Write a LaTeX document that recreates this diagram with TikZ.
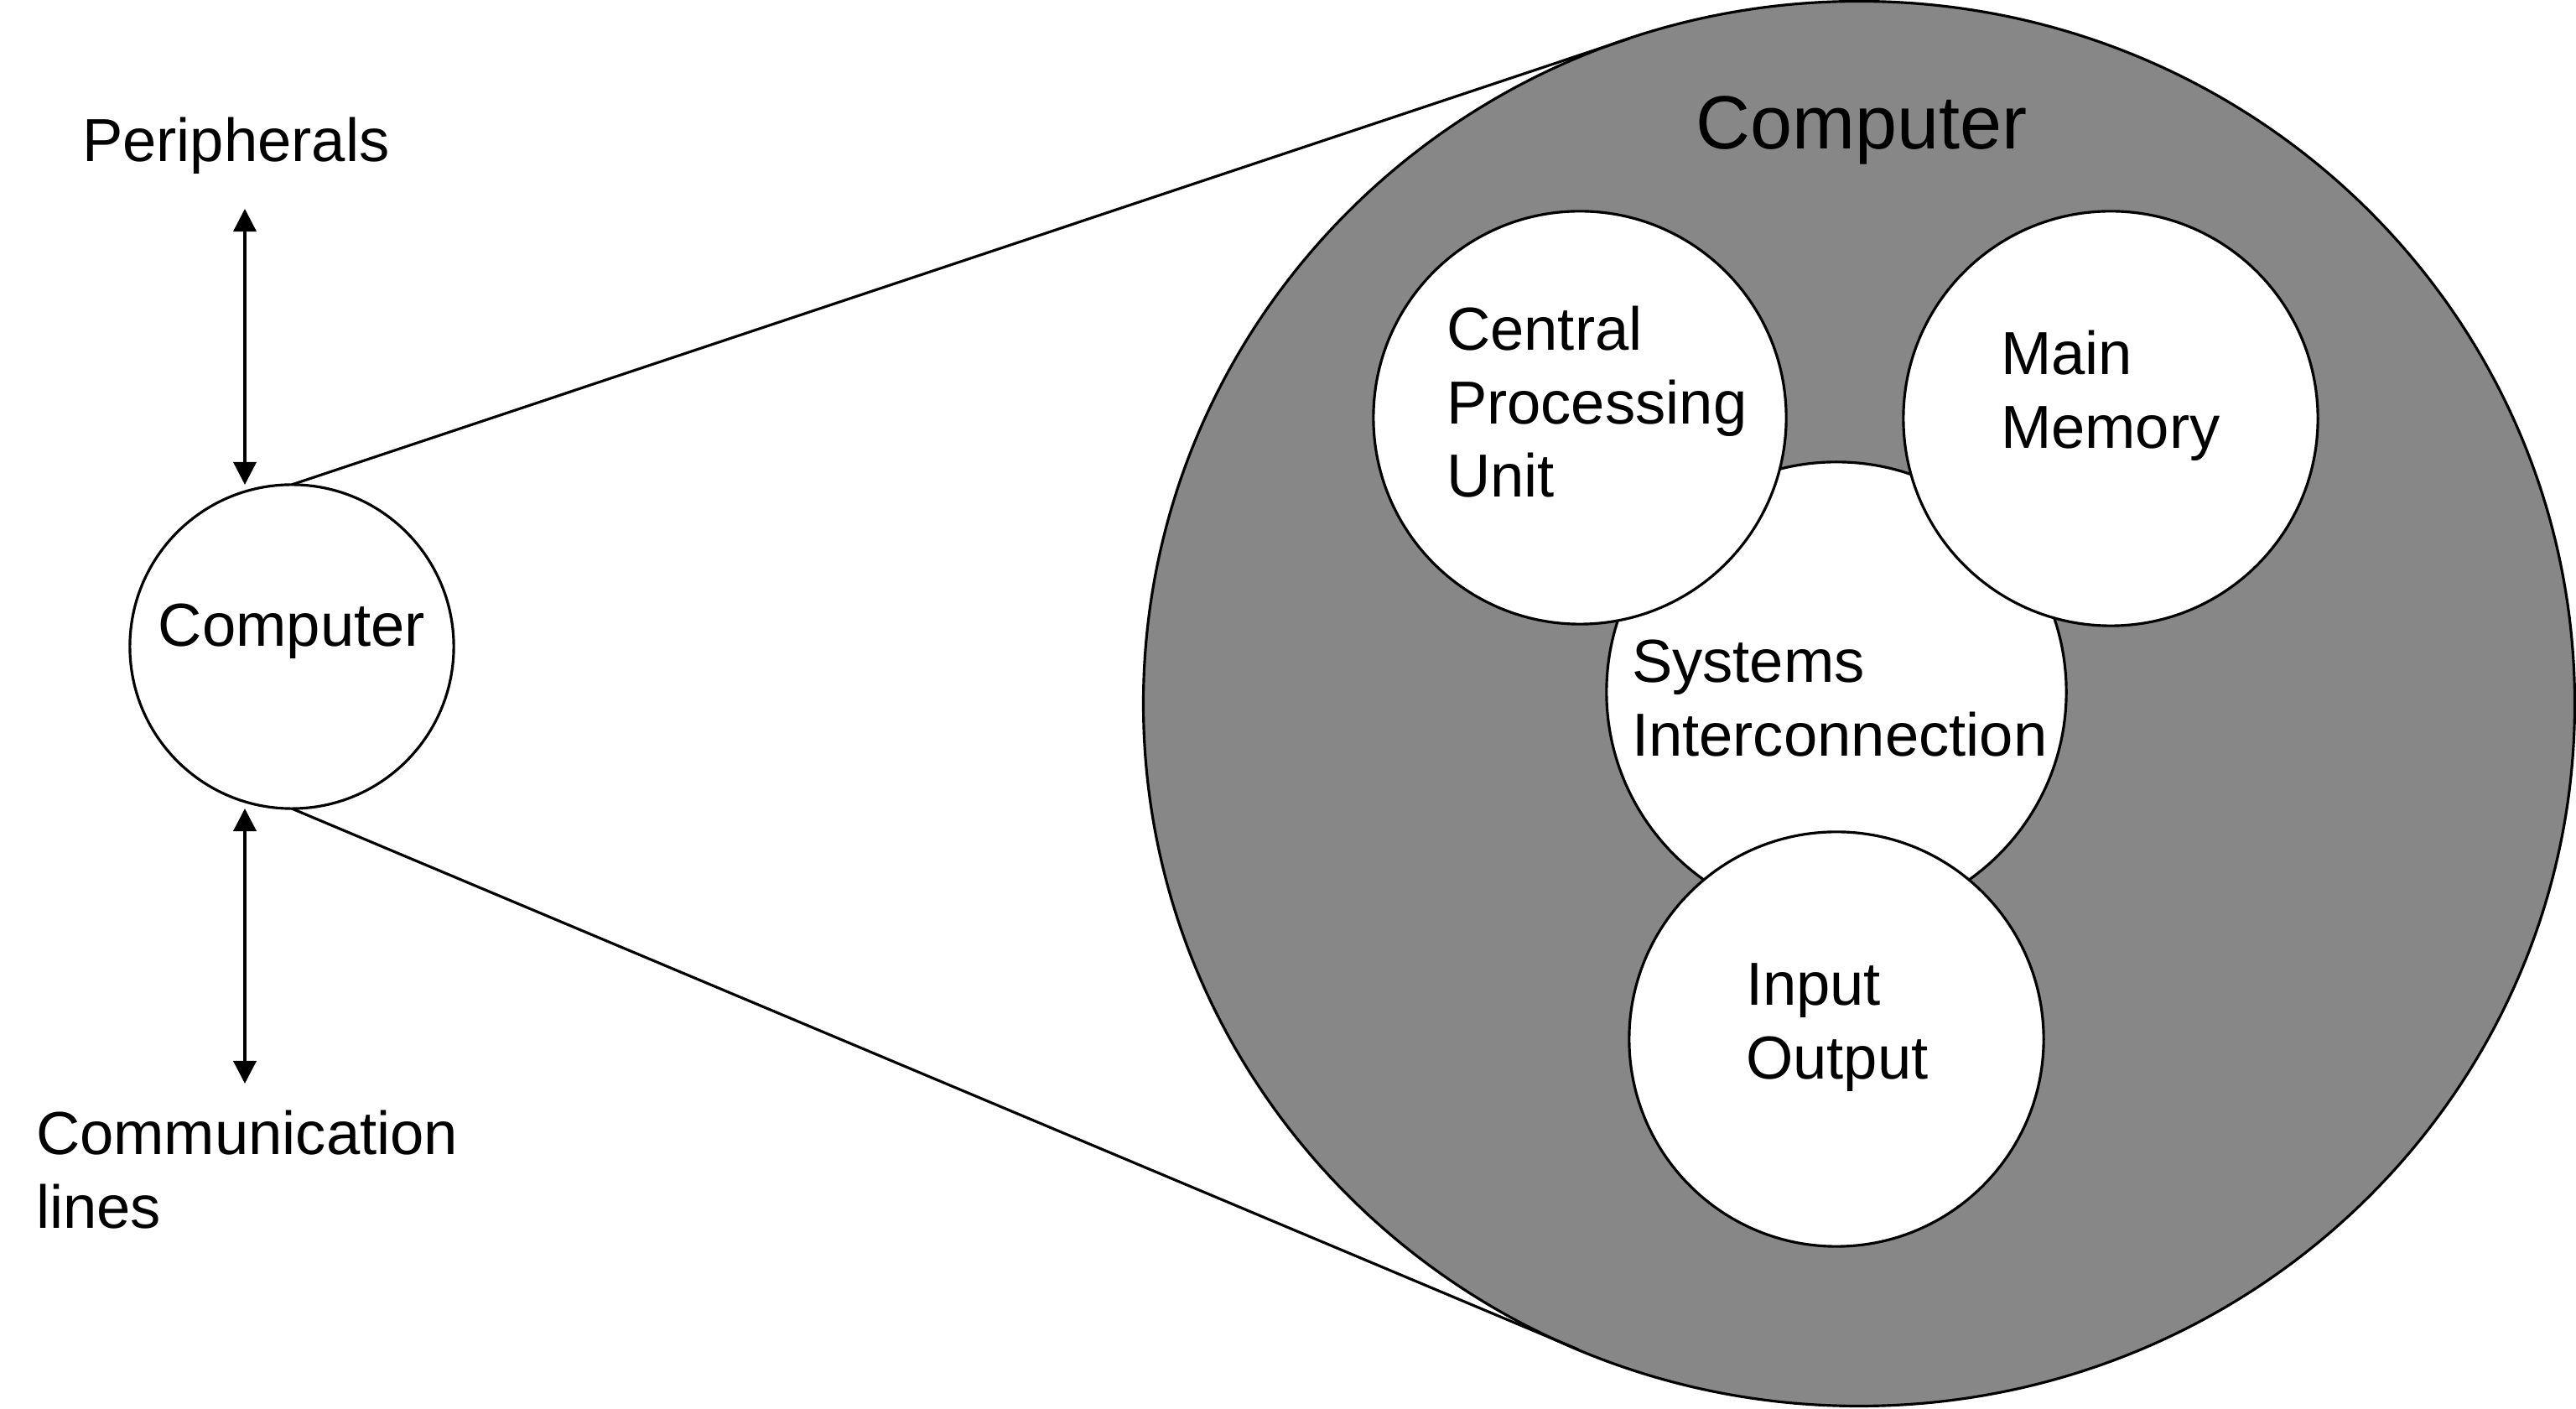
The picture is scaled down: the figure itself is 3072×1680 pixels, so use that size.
\documentclass[tikz,border=0pt]{standalone}
\usepackage{fontspec}
\setmainfont{Liberation Sans}
\usetikzlibrary{arrows.meta,shapes.geometric}
\begin{document}
\begin{tikzpicture}[x=0.01cm,y=-0.01cm,
  lbl/.style={inner sep=0pt, outer sep=0pt, font=\fontsize{20.6}{24.75}\selectfont, anchor=base west},
  ttl/.style={inner sep=0pt, outer sep=0pt, font=\fontsize{25.6}{30}\selectfont, anchor=base},
  unit/.style={circle, draw, fill=white, line width=0.9pt, inner sep=0pt, outer sep=0pt},
  conn/.style={line width=0.9pt},
  bio/.style={line width=1pt, {Triangle[width=0.27cm,length=0.27cm]}-{Triangle[width=0.27cm,length=0.27cm]}}
]
\useasboundingbox (0,0) rectangle (3072,1680);
\fill[white] (0,0) rectangle (3072,1680);

% exploded computer
\node[ellipse, draw, fill=black!47, line width=0.9pt, inner sep=0pt, outer sep=0pt,
      minimum width=17.06cm, minimum height=16.74cm] (inside) at (2217,839) {};
\node[ttl] (title) at (2220,178) {Computer};

% small computer
\node[unit, minimum size=3.86cm, text height=0.3cm, text depth=0.3cm,
      font=\fontsize{20.6}{24.75}\selectfont] (comp) at (348,771) {Computer};

% tangent lines
\coordinate (tu) at (1943,46);
\coordinate (tl) at (1882,1609);
\draw[conn] (comp.north) -- (tu);
\draw[conn] (comp.south) -- (tl);

% inner units
\node[unit, minimum size=5.48cm] (si) at (2190,825) {};
\node[unit, minimum size=4.92cm] (cpu) at (1884,498) {};
\node[unit, minimum size=4.94cm] (mm) at (2517,499) {};
\node[unit, minimum size=4.94cm] (io) at (2190,1239) {};

\node[lbl] (cputxt) at (1725,418) {\begin{tabular}[t]{@{}l@{}}Central\\Processing\\Unit\end{tabular}};
\node[lbl] (mmtxt) at (2386,447) {\begin{tabular}[t]{@{}l@{}}Main\\Memory\end{tabular}};
\node[lbl] (sitxt) at (1946,814) {\begin{tabular}[t]{@{}l@{}}Systems\\Interconnection\end{tabular}};
\node[lbl] (iotxt) at (2082,1199) {\begin{tabular}[t]{@{}l@{}}Input\\Output\end{tabular}};

% peripherals and communication lines
\node[lbl] (per) at (98,193) {Peripherals};
\node[lbl] (com) at (43,1377) {\begin{tabular}[t]{@{}l@{}}Communication\\lines\end{tabular}};

\coordinate (pa) at (292,249);
\coordinate (pb) at (292,578);
\coordinate (ca) at (292,964);
\coordinate (cb) at (292,1292);
\draw[bio] (pa) -- (pb);
\draw[bio] (ca) -- (cb);
\end{tikzpicture}
\end{document}
